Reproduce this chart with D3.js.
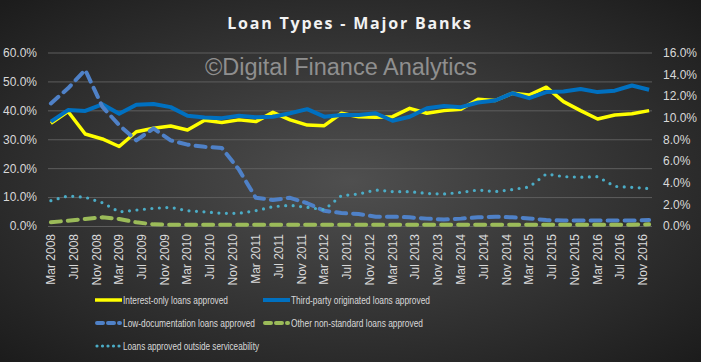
<!DOCTYPE html>
<html>
<head>
<meta charset="utf-8">
<script src="https://cdn.jsdelivr.net/npm/d3@7"></script>
<style>
  body { margin: 0; background: #2b2b2b; }
  svg { display: block; }
</style>
</head>
<body>
<svg id="chart" width="701" height="362"></svg>
<script>
// quarterly observations, Mar 2008 .. Dec 2016
var quarters = [
  "Mar 2008", "Jun 2008", "Sep 2008", "Dec 2008",
  "Mar 2009", "Jun 2009", "Sep 2009", "Dec 2009",
  "Mar 2010", "Jun 2010", "Sep 2010", "Dec 2010",
  "Mar 2011", "Jun 2011", "Sep 2011", "Dec 2011",
  "Mar 2012", "Jun 2012", "Sep 2012", "Dec 2012",
  "Mar 2013", "Jun 2013", "Sep 2013", "Dec 2013",
  "Mar 2014", "Jun 2014", "Sep 2014", "Dec 2014",
  "Mar 2015", "Jun 2015", "Sep 2015", "Dec 2015",
  "Mar 2016", "Jun 2016", "Sep 2016", "Dec 2016"
];
var tickLabels = [
  "Mar 2008", "Jul 2008", "Nov 2008", "Mar 2009", "Jul 2009", "Nov 2009",
  "Mar 2010", "Jul 2010", "Nov 2010", "Mar 2011", "Jul 2011", "Nov 2011",
  "Mar 2012", "Jul 2012", "Nov 2012", "Mar 2013", "Jul 2013", "Nov 2013",
  "Mar 2014", "Jul 2014", "Nov 2014", "Mar 2015", "Jul 2015", "Nov 2015",
  "Mar 2016", "Jul 2016", "Nov 2016"
];

// left axis (%)
var interestOnly = [
  35.5, 39.6, 31.8, 30.1, 27.5, 32.6, 33.8, 34.6, 33.2, 36.6, 35.8, 36.7,
  36.1, 39.3, 36.7, 34.9, 34.7, 39.0, 37.8, 37.6, 37.8, 40.7, 39.0, 39.9,
  40.4, 43.8, 43.4, 45.9, 45.3, 48.0, 43.0, 39.9, 37.0, 38.4, 38.8, 39.9
];
var thirdParty = [
  36.1, 40.1, 39.8, 42.1, 38.8, 41.9, 42.2, 41.1, 38.1, 37.5, 37.3, 38.1,
  37.6, 37.8, 39.0, 40.4, 37.8, 38.4, 38.4, 39.0, 36.4, 37.8, 40.7, 41.5,
  41.1, 42.7, 43.4, 45.9, 44.2, 46.3, 46.5, 47.4, 46.3, 46.8, 48.6, 47.1
];
// right axis (%)
var lowDoc = [
  11.3, 12.7, 14.4, 11.0, 9.3, 7.9, 9.0, 7.9, 7.5, 7.3, 7.2, 5.2,
  2.6, 2.4, 2.6, 2.1, 1.4, 1.2, 1.1, 0.86, 0.86, 0.8, 0.68, 0.6,
  0.68, 0.8, 0.86, 0.8, 0.7, 0.55, 0.5, 0.5, 0.5, 0.5, 0.5, 0.55
];
var otherNonStd = [
  0.34, 0.49, 0.65, 0.8, 0.65, 0.34, 0.15, 0.12, 0.12, 0.12, 0.12, 0.12,
  0.12, 0.12, 0.12, 0.12, 0.12, 0.12, 0.12, 0.12, 0.12, 0.12, 0.12, 0.12,
  0.12, 0.12, 0.12, 0.12, 0.12, 0.12, 0.12, 0.12, 0.12, 0.12, 0.12, 0.15
];
var outsideServ = [
  2.34, 2.77, 2.65, 2.15, 1.3, 1.47, 1.63, 1.72, 1.41, 1.3, 1.17, 1.17,
  1.41, 1.78, 1.91, 1.72, 1.5, 2.8, 2.95, 3.32, 3.17, 3.17, 3.0, 2.95,
  3.1, 3.32, 3.17, 3.36, 3.6, 4.8, 4.55, 4.5, 4.55, 3.65, 3.57, 3.45
];

var leftTicks = [0, 10, 20, 30, 40, 50, 60];
var rightTicks = [0, 2, 4, 6, 8, 10, 12, 14, 16];

var series = [
  {name: "Interest-only loans approved", values: interestOnly, axis: "left",
   color: "#ffff00", width: 3.5, dash: null, legendDash: null, cap: "butt"},
  {name: "Third-party originated loans approved", values: thirdParty, axis: "left",
   color: "#0070c0", width: 4, dash: null, legendDash: null, cap: "butt"},
  {name: "Low-documentation loans approved", values: lowDoc, axis: "right",
   color: "#4f81c7", width: 4, dash: "10,7", legendDash: "6,5", cap: "round"},
  {name: "Other non-standard loans approved", values: otherNonStd, axis: "right",
   color: "#9bbb59", width: 4, dash: "10,7", legendDash: "6,5", cap: "round"},
  {name: "Loans approved outside serviceability", values: outsideServ, axis: "right",
   color: "#4bacc6", width: 3.2, dash: "0,7.5", legendDash: "0,5.5", cap: "round"}
];

var svg = d3.select('#chart');
var W = 701, H = 362;
var plotLeft = 48, plotRight = 652, plotTop = 52.5, plotBottom = 226;
var parse = d3.timeParse('%b %Y');
var labelFont = 'Liberation Sans Narrow, Liberation Sans, Arial';

// background
var defs = svg.append('defs');
var grad = defs.append('radialGradient').attr('id', 'bg')
  .attr('cx', '50%').attr('cy', '50%').attr('r', '70%');
grad.append('stop').attr('offset', '0%').attr('stop-color', '#4f4f4f');
grad.append('stop').attr('offset', '100%').attr('stop-color', '#1c1c1c');
svg.append('rect').attr('width', W).attr('height', H).attr('fill', 'url(#bg)');

var x = d3.scaleTime()
  .domain([parse("Mar 2008"), parse("Jan 2017")])
  .range([plotLeft, plotRight]);
function xMid(label) {
  var d = parse(label);
  return (x(d) + x(d3.timeMonth.offset(d, 1))) / 2;
}
var yL = d3.scaleLinear().domain([0, 60]).range([plotBottom, plotTop]);
var yR = d3.scaleLinear().domain([0, 16]).range([plotBottom, plotTop]);

// gridlines
svg.append('g')
  .attr('transform', 'translate(' + plotLeft + ',0)')
  .call(d3.axisLeft(yL).tickValues(leftTicks).tickSize(-(plotRight - plotLeft)).tickFormat(''))
  .call(function(g) {
    g.select('.domain').remove();
    g.selectAll('line').attr('stroke', '#5e5e5e').attr('stroke-width', 1);
  });

// left axis labels
svg.append('g')
  .attr('transform', 'translate(' + plotLeft + ',0)')
  .call(d3.axisLeft(yL).tickValues(leftTicks).tickSize(0).tickPadding(11)
    .tickFormat(function(d) { return d.toFixed(1) + '%'; }))
  .call(function(g) {
    g.select('.domain').remove();
    g.selectAll('text').attr('fill', '#d9d9d9')
      .style('font-family', labelFont)
      .style('font-size', '12px');
  });

// right axis labels
svg.append('g')
  .attr('transform', 'translate(' + plotRight + ',0)')
  .call(d3.axisRight(yR).tickValues(rightTicks).tickSize(0).tickPadding(11)
    .tickFormat(function(d) { return d.toFixed(1) + '%'; }))
  .call(function(g) {
    g.select('.domain').remove();
    g.selectAll('text').attr('fill', '#d9d9d9')
      .style('font-family', labelFont)
      .style('font-size', '12px');
  });

// x labels, rotated
svg.append('g').selectAll('text')
  .data(tickLabels)
  .enter().append('text')
  .attr('transform', function(d) { return 'translate(' + (xMid(d) + 4) + ',234) rotate(-90)'; })
  .attr('text-anchor', 'end')
  .attr('fill', '#d9d9d9')
  .style('font-family', labelFont)
  .style('font-size', '12px')
  .text(function(d) { return d; });

// watermark
svg.append('text')
  .attr('x', 341).attr('y', 75)
  .attr('text-anchor', 'middle')
  .attr('fill', '#8f8f8f')
  .style('font-family', 'Liberation Sans, Arial')
  .style('font-size', '23.5px')
  .text('\u00a9Digital Finance Analytics');

// lines
series.forEach(function(s) {
  var yScale = s.axis === 'left' ? yL : yR;
  var line = d3.line()
    .x(function(d, i) { return xMid(quarters[i]); })
    .y(function(d) { return yScale(d); });
  svg.append('path')
    .datum(s.values)
    .attr('d', line)
    .attr('fill', 'none')
    .attr('stroke', s.color)
    .attr('stroke-width', s.width)
    .attr('stroke-dasharray', s.dash)
    .attr('stroke-linecap', s.cap)
    .attr('stroke-linejoin', 'round');
});

// title
svg.append('text')
  .attr('x', 350).attr('y', 29)
  .attr('text-anchor', 'middle')
  .attr('fill', '#f2f2f2')
  .style('font-family', 'Open Sans, DejaVu Sans, sans-serif')
  .style('font-weight', 'bold')
  .style('font-size', '16px')
  .style('letter-spacing', '1.8px')
  .text('Loan Types - Major Banks');

// legend
var legendPos = [
  {x: 95, y: 300}, {x: 263, y: 300},
  {x: 95, y: 323}, {x: 263, y: 323},
  {x: 95, y: 346}
];
var legendWidths = [105, 139, 132, 132, 136];
series.forEach(function(s, i) {
  var p = legendPos[i];
  var g = svg.append('g').attr('transform', 'translate(' + p.x + ',' + p.y + ')');
  g.append('line')
    .attr('x1', s.legendDash ? 2 : 0).attr('x2', s.legendDash ? 25 : 27)
    .attr('y1', 0).attr('y2', 0)
    .attr('stroke', s.color)
    .attr('stroke-width', s.width)
    .attr('stroke-dasharray', s.legendDash)
    .attr('stroke-linecap', s.cap);
  g.append('text')
    .attr('x', 28).attr('y', 4)
    .attr('fill', '#d9d9d9')
    .attr('textLength', legendWidths[i])
    .attr('lengthAdjust', 'spacingAndGlyphs')
    .style('font-family', labelFont)
    .style('font-size', '11px')
    .text(s.name);
});
</script>
</body>
</html>
